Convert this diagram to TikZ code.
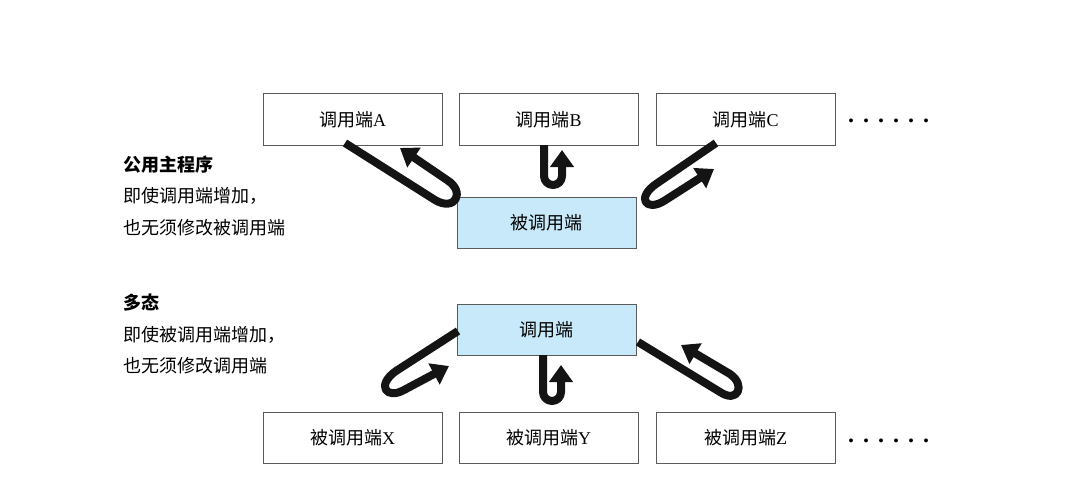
\documentclass[tikz,border=0pt]{standalone}
\usepackage{fontspec}
\setmainfont{Liberation Serif}
\newfontfamily\cjk{Noto Sans CJK SC}
\usetikzlibrary{arrows.meta}
\definecolor{lb}{RGB}{200,233,250}
\definecolor{bd}{RGB}{90,90,90}
\newcommand{\mydots}{\bfseries.\hspace{9pt}.\hspace{9pt}.\hspace{9pt}.\hspace{9pt}.\hspace{9pt}.}
\begin{document}
\begin{tikzpicture}[x=1pt,y=-1pt,
 box/.style={draw=bd,line width=1pt,minimum width=179pt,minimum height=51pt,font=\fontsize{18}{20}\selectfont,inner sep=0pt},
 hl/.style={box,fill=lb},
 ua/.style={line width=8pt,draw=black!92,line join=round,-{Triangle[width=23pt,length=17pt]}},
 lab/.style={anchor=west,font=\cjk\fontsize{18}{20}\selectfont,inner sep=0pt}]
\useasboundingbox (0,0) rectangle (1080,495);
\node[box] (A) at (352.5,119.5) {{\cjk 调用端}A};
\node[box] (B) at (548.5,119.5) {{\cjk 调用端}B};
\node[box] (C) at (745.5,119.5) {{\cjk 调用端}C};
\node[hl] (S) at (546.5,223) {\cjk 被调用端};
\node[hl] (M) at (546.5,329.5) {\cjk 调用端};
\node[box] (X) at (352.5,437.5) {{\cjk 被调用端}X};
\node[box] (Y) at (548.5,437.5) {{\cjk 被调用端}Y};
\node[box] (Z) at (745.5,437.5) {{\cjk 被调用端}Z};
\node[font=\fontsize{24}{24}\selectfont,anchor=west,inner sep=0pt] (d1) at (848,121) {\mydots};
\node[font=\fontsize{24}{24}\selectfont,anchor=west,inner sep=0pt] (d2) at (848,441) {\mydots};
\node[lab,font=\cjk\bfseries\fontsize{18}{20}\selectfont] (t1) at (123,165) {公用主程序};
\node[lab] (t2) at (123,196) {即使调用端增加，};
\node[lab] (t3) at (123,228) {也无须修改被调用端};
\node[lab,font=\cjk\bfseries\fontsize{18}{20}\selectfont] (t4) at (123,303) {多态};
\node[lab] (t5) at (123,335) {即使被调用端增加，};
\node[lab] (t6) at (123,366) {也无须修改调用端};
% top arrows
\draw[ua] (345,143) -- (435,200) .. controls (455,212) and (466,192) .. (447,180) -- (400,148);
\draw[ua] (544,145) -- (544,176) arc[start angle=180,end angle=0,radius=9] -- (562,150);
\draw[ua] (716,143) -- (656,184) .. controls (636,198) and (646,212) .. (664,201) -- (714,169);
% bottom arrows
\draw[ua] (458,331) -- (396,371) .. controls (376,385) and (386,400) .. (404,390) -- (449,366);
\draw[ua] (543,355) -- (543,392) arc[start angle=180,end angle=0,radius=9] -- (561,365);
\draw[ua] (638,342) -- (720,392) .. controls (738,404) and (746,385) .. (730,374) -- (681,345);
\end{tikzpicture}
\end{document}
